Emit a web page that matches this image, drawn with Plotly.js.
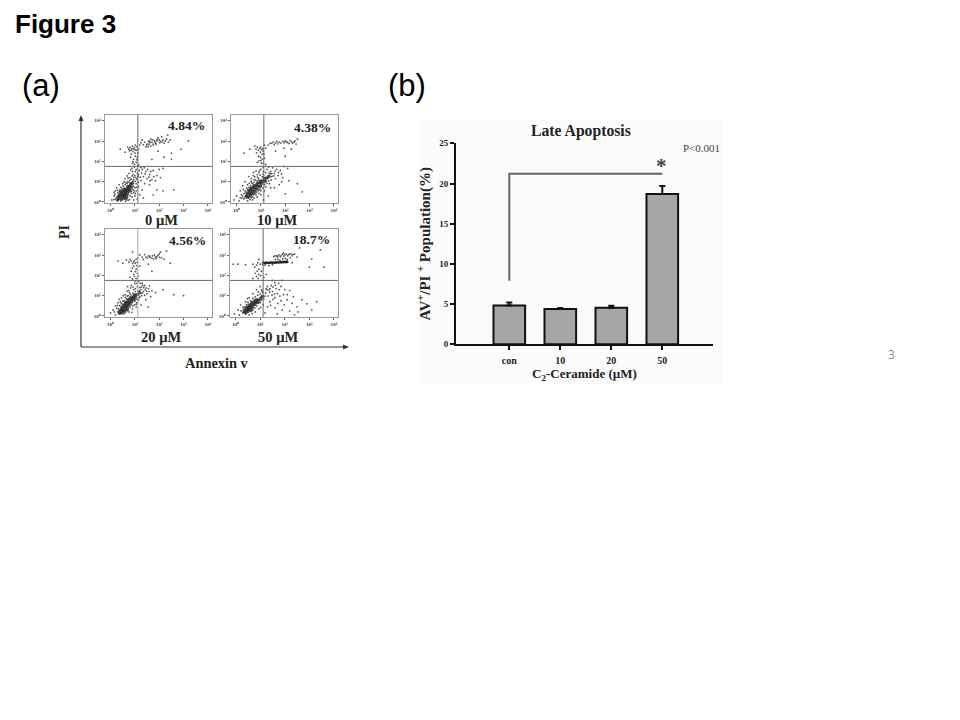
<!DOCTYPE html>
<html><head><meta charset="utf-8">
<script src="https://cdn.plot.ly/plotly-3.0.1.min.js"></script>
<style>html,body{margin:0;padding:0;background:#fff}#c{width:960px;height:720px}</style>
</head><body><div id="c"></div>
<script>
// Bar chart values
const doses=['con','10','20','50'];
const lateApoptosis=[4.84,4.38,4.56,18.7];
const errUp=[0.35,0.15,0.25,1.0];
const bracketX=['con','con','50'];
const bracketY=[7.9,21.2,21.2];
const barTicks=[0,5,10,15,20,25];
// Flow cytometry panels: [log10 Annexin V, log10 PI], read by eye
const panelLabels=['0 µM','10 µM','20 µM','50 µM'];
const panelPct=['4.84%','4.38%','4.56%','18.7%'];
const decadeTicks=[0,1,2,3,4];
const decadeText=['10⁰','10¹','10²','10³','10⁴'];
const quadX=[1.12,1.12,1.12,1.12];
const quadY=[1.75,1.75,1.75,1.75];
const events0=[[1.6,3],[1.7,2.95],[1.8,3.02],[1.9,3],[2,3.05],[2.05,2.98],[2.15,3.05],[2.2,2.9],[1.5,2.85],[1.65,2.75],[1.75,2.85],[1.85,2.9],[1.4,2.95],[1.3,3.05],[1.45,2.7],[1.55,2.72],[2.3,3.1],[2.35,3.3],[2.1,3.2],[2.45,3.05],[1.95,3.15],[1.2,2.8],[1.15,2.6],[1.05,2.55],[0.95,2.6],[0.85,2.55],[0.75,2.6],[0.7,2.7],[0.9,2.75],[1,2.4],[0.85,2.35],[0.6,2.45],[0.4,2.6],[1.1,2.2],[0.95,2.1],[1.05,1.95],[0.9,1.9],[3.2,3],[2.9,2.6],[2.5,2.4],[1.95,2.5],[2.2,2.2],[1.7,2.1],[2.5,2.1],[1.3,1.6],[1.45,1.5],[1.6,1.35],[1.75,1.55],[1.9,1.3],[1.5,1.15],[1.35,1.25],[1.7,1.1],[1.85,1.05],[2,1.6],[2.15,1.65],[1.25,1.05],[1.4,0.9],[1.6,0.85],[1.3,0.6],[1.9,0.6],[1.75,0.35],[2.15,0.55],[2.6,0.6],[1.35,0.2],[1.2,0.35],[1.15,0.75],[1.05,1.6],[0.9,1.5],[0.75,1.4],[1,1.3],[0.8,1.2],[0.6,1.15],[0.95,1.1],[1.1,1.4],[1.05,0.9],[0.5,0.9],[0.35,0.85],[0.2,0.55],[0.05,0.1],[0.15,0.3],[0.3,0.1],[0.95,0.1],[0.25,0.7],[0.55,1],[0.7,1],[0.85,0.95],[1,0.7],[0.95,0.45],[1.1,0.15],[2.05,1.2],
[1.62,2.92],[1.72,3.06],[1.82,2.94],[1.92,3.08],[2.02,2.92],[2.12,2.96],[1.56,2.98],[1.66,3.1],[1.76,2.8],[1.88,2.84],[2.25,3],[2.38,2.95],[1.35,2.82],[1.25,2.92],[1.48,2.78],[1.58,2.84],[0.98,2.68],[1.08,2.72],[0.8,2.68],[0.88,2.62],[1,2.58],[0.78,2.52],[1.02,2.8],[0.92,2.48],[1.12,2.42],[0.82,2.2],[1.02,2.25],[0.92,1.98],[1.08,2.08],[0.98,1.85],[1.15,1.82],[1.25,1.7],[1.38,1.68],[1.52,1.6],[1.65,1.5],[1.42,1.38],[1.58,1.22],[1.28,1.42],[1.18,1.55],[1.22,1.22],[1.12,1.25],[1.78,1.25],[1.62,1.05],[0.88,1.65],[0.98,1.72],[0.82,1.58],[1.02,1.5],[0.68,1.28],[0.88,1.28],[0.78,1.08],[0.62,0.95],[0.42,0.72],[0.3,0.45],[0.28,0.25],[0.2,0.15],[0.42,0.05],[0.62,0.04],[0.78,0.12],[0.88,0.25],[1,0.3],[0.92,0.62],[1.05,0.55],[0.18,0.38],[0.38,0.6],[1.08,1.12],
[0.24,0.22],[0.14,0.12],[0.26,0.05],[0.72,0.08],[0.8,0.3],[0.86,0.42],[0.96,0.55],[1.02,0.42],[0.35,0.52],[0.28,0.58],[0.46,0.65],[0.52,0.78],[0.6,0.86],[0.68,0.92],[0.76,0.98],[0.92,1.02],[1.02,1.02],[1.14,0.98],[0.94,0.78],[1.06,0.72],[0.85,1.12],[0.72,1.18],[0.96,1.22],[1.04,1.2],[1.14,1.34],[0.92,1.35],[0.7,0.18],[0.86,0.52],[0.14,0.48],[0.32,0.32]];
const core0=[[0.3,0.12],[0.38,0.18],[0.46,0.14],[0.54,0.2],[0.62,0.16],[0.34,0.28],[0.42,0.3],[0.5,0.27],[0.58,0.32],[0.66,0.28],[0.38,0.4],[0.46,0.42],[0.54,0.38],[0.62,0.44],[0.7,0.4],[0.44,0.52],[0.52,0.54],[0.6,0.5],[0.68,0.56],[0.76,0.52],[0.56,0.64],[0.64,0.62],[0.72,0.66],[0.8,0.62],[0.7,0.76],[0.78,0.78],[0.86,0.74],[0.82,0.88],[0.9,0.92]];
const events1=[[1.6,2.9],[1.75,2.95],[1.9,2.98],[2,3],[2.1,2.92],[2.2,3.02],[2.3,2.9],[2.4,3],[2.5,3.1],[2.45,2.85],[1.45,2.9],[1.3,2.8],[1.5,2.95],[1.2,2.65],[1.1,2.5],[1,2.7],[0.9,2.55],[0.8,2.6],[0.75,2.75],[1.05,2.35],[0.9,2.25],[1.15,2.15],[1,2.05],[1.1,1.9],[0.85,1.95],[1.95,2.65],[1.6,2.5],[2.25,2.6],[2,2.25],[0.3,2.4],[0.55,2.6],[2.1,1.65],[1.95,1.75],[1.8,1.55],[1.65,1.6],[1.55,1.4],[1.7,1.3],[1.4,1.5],[1.25,1.6],[1.1,1.7],[1.45,1.25],[1.3,1.3],[1.6,1.15],[1.9,1.2],[2.15,1.05],[2.5,0.9],[1.35,0.9],[1.55,0.7],[1.75,0.85],[2,0.4],[2.7,0.5],[1.2,0.75],[1.3,0.3],[0.95,1.55],[0.85,1.35],[0.7,1.45],[0.5,1.25],[0.35,1],[0.25,0.8],[0.15,0.55],[0,0.3],[-0.1,0.1],[0.1,0.05],[0.3,0.15],[0.2,0.35],[0.45,0.05],[0.65,0.1],[0.85,0.25],[0.75,0.4],[1,0.55],[1.1,0.95],[1.05,1.25],[0.6,1.15],[0.75,1.25],[0.9,1.15],[0.45,0.85],[0.35,0.55],[1,0.35],[1.1,0.1],[1.85,1],
[1.65,2.98],[1.82,2.9],[1.96,2.92],[2.06,2.96],[2.16,2.88],[2.26,2.96],[2.36,2.94],[1.7,2.86],[1.55,2.82],[1.38,2.88],[1.15,2.8],[1.02,2.58],[0.95,2.65],[0.85,2.7],[0.98,2.45],[1.08,2.62],[0.82,2.42],[1.12,2.35],[0.98,2.2],[1.06,2.12],[0.92,2.02],[1.02,1.92],[1.2,1.85],[1.32,1.72],[1.48,1.68],[1.58,1.52],[1.72,1.45],[1.85,1.38],[1.38,1.38],[1.52,1.28],[1.2,1.45],[1.28,1.18],[1.42,1.08],[1.18,1.2],[1.1,1.5],[1,1.62],[0.92,1.45],[0.8,1.52],[1.22,1.02],[1.4,0.7],[0.62,0.95],[0.52,0.92],[0.42,0.68],[0.32,0.42],[0.22,0.2],[0.38,0.3],[0.5,0.2],[0.6,0.22],[0.72,0.18],[0.92,0.42],[0.88,0.55],[1.02,0.78],[0.28,0.62],[0.15,0.2],[1.15,0.55],[0.98,0.98],[0.78,1.08],[0.68,1.3],
[0.34,0.22],[0.42,0.18],[0.55,0.12],[0.66,0.25],[0.8,0.35],[0.92,0.62],[1.08,0.68],[0.38,0.5],[0.46,0.6],[0.5,0.72],[0.58,0.8],[0.66,0.9],[0.72,0.98],[0.84,1.04],[0.92,1.06],[1.1,1.22],[1.15,0.86],[1.25,0.92],[1.32,1.05],[0.82,0.48],[0.96,0.62],[1.34,1.42],[1.44,1.4],[1.08,1.36],[0.96,1.32],[0.86,1.22],[0.72,1.1],[0.6,1.02],[0.25,0.3],[0.56,0.66]];
const core1=[[0.4,0.3],[0.48,0.26],[0.56,0.32],[0.44,0.42],[0.52,0.44],[0.6,0.42],[0.68,0.4],[0.5,0.56],[0.58,0.58],[0.66,0.54],[0.74,0.52],[0.6,0.68],[0.68,0.7],[0.76,0.66],[0.84,0.64],[0.72,0.8],[0.8,0.82],[0.88,0.78],[0.96,0.76],[0.86,0.92],[0.94,0.94],[1.02,0.9],[1,1.04],[1.08,1.04],[1.16,1.02],[1.14,1.14],[1.24,1.18],[1.34,1.26]];
const events2=[[1.6,2.95],[1.7,2.85],[1.8,3],[1.9,2.92],[2,3.05],[2.1,2.85],[1.5,2.85],[1.4,3.02],[1.3,2.9],[2.2,2.8],[2.3,3.2],[2.05,3.15],[1.2,3],[1.05,2.8],[0.95,2.65],[1.1,2.65],[0.85,2.7],[0.75,2.65],[0.65,2.75],[0.5,2.6],[0.3,2.7],[0.95,2.45],[1.05,2.3],[0.85,2.2],[0.95,2.05],[1.1,2.1],[0.8,1.9],[1.05,1.85],[1.55,2.55],[1.2,2.45],[1.7,2.2],[2.45,2.6],[0.9,3.15],[1.15,1.7],[1.3,1.6],[1.4,1.5],[1.55,1.35],[1.7,1.25],[1.5,1.1],[1.35,1.2],[1.2,1.4],[1.85,1.15],[1.65,0.95],[1.45,0.8],[2.15,1.3],[2.6,1.05],[3,1],[1.25,0.55],[1.55,0.45],[1,1.6],[0.85,1.5],[0.7,1.45],[0.95,1.3],[0.75,1.25],[0.6,1.05],[0.45,0.9],[0.3,0.65],[0.2,0.5],[0.1,0.3],[0,0.15],[0.2,0.05],[0.35,0.1],[0.15,0.2],[0.55,0.1],[0.75,0.2],[0.9,0.35],[1.05,0.45],[1.15,0.8],[1,0.75],[1.15,1.05],[0.45,0.4],[0.85,0.55],[0.4,0.7],[0.65,0.85],
[1.62,2.88],[1.72,2.96],[1.84,2.9],[1.95,2.98],[1.78,2.8],[1.88,2.82],[2.02,2.88],[1.55,2.95],[1.45,2.9],[1.35,2.78],[1.12,2.85],[0.98,2.72],[1.02,2.6],[0.9,2.58],[0.8,2.78],[1.08,2.48],[0.9,2.35],[1.02,2.18],[0.98,1.95],[1.12,1.95],[0.9,1.82],[1,1.72],[1.08,1.62],[1.22,1.6],[1.32,1.5],[1.46,1.38],[1.6,1.48],[1.25,1.3],[1.42,1.3],[1.3,1.12],[1.18,1.25],[1.58,1.2],[1.1,1.45],[0.92,1.42],[0.82,1.38],[0.68,1.22],[0.52,1],[0.35,0.82],[0.25,0.38],[0.3,0.22],[0.4,0.15],[0.62,0.18],[0.98,0.55],[1.08,0.65],[0.88,0.18],[1.2,0.95],[0.55,0.75],[0.28,0.52],[1.4,1.02],[0.78,1.15],
[0.5,0.22],[0.62,0.3],[0.72,0.32],[0.8,0.45],[0.92,0.5],[0.32,0.35],[0.38,0.52],[0.44,0.62],[0.5,0.72],[0.6,0.92],[0.72,1],[0.82,1.06],[0.92,1.12],[1.02,1.2],[1.12,1.22],[1.02,1.35],[0.98,0.72],[1.08,0.82],[1.18,0.9],[1.28,1],[0.68,0.98],[0.78,0.92],[0.96,1.05],[1.05,0.58],[0.62,0.62],[0.42,0.28],[0.7,0.26],[1.26,1.42],[1.36,1.4],[1.48,1.22]];
const core2=[[0.36,0.16],[0.44,0.14],[0.52,0.2],[0.4,0.28],[0.48,0.3],[0.56,0.28],[0.64,0.3],[0.46,0.42],[0.54,0.42],[0.62,0.44],[0.7,0.42],[0.52,0.54],[0.6,0.56],[0.68,0.54],[0.76,0.56],[0.62,0.68],[0.7,0.68],[0.78,0.66],[0.86,0.68],[0.72,0.8],[0.8,0.82],[0.88,0.8],[0.96,0.82],[0.86,0.94],[0.94,0.94],[1.02,0.92],[1,1.04],[1.1,1.06],[1.2,1.14]];
const events3=[[1.2,2.5],[1.35,2.48],[1.5,2.52],[1.1,2.52],[1,2.55],[1.55,2.92],[1.7,2.9],[1.85,2.96],[2,3],[2.15,3.02],[2.3,2.96],[2.4,3.05],[2.5,2.9],[2.1,2.78],[1.8,2.74],[2.3,2.62],[0.85,2.5],[0.7,2.55],[0.4,2.52],[0.1,2.55],[-0.1,2.55],[0.95,2.3],[0.8,2.1],[0.85,1.95],[0.95,2.05],[1.05,2.2],[1.15,1.9],[0.7,1.85],[3.45,3.25],[3.1,2.8],[3,2.4],[3.6,2.4],[2.6,3.35],[1.95,3.1],[1.25,2.05],[1.9,1.75],[1.75,1.6],[1.6,1.65],[1.45,1.5],[1.3,1.45],[1.65,1.35],[1.85,1.45],[2,1.3],[1.5,1.2],[1.7,1.1],[1.95,1.05],[2.2,1.25],[2.35,0.95],[2.1,0.8],[1.85,0.75],[1.6,0.9],[1.4,0.7],[1.3,0.45],[1.6,0.4],[1.9,0.3],[2.2,0.25],[2.5,0.45],[2.7,0.8],[2.9,0.6],[3.1,0.3],[3.3,0.7],[1.2,0.15],[1.7,0.1],[2.4,0.05],[1.1,1.15],[1,1.45],[0.85,1.3],[0.7,1.1],[1.15,0.85],[1,0.65],[0.55,0.9],[0.4,0.7],[0.2,0.55],[0.1,0.3],[-0.05,0.1],[0.15,0.05],[0.3,0.15],[0.55,0.05],[0.8,0.2],[0.95,0.35],[0.7,0.3],
[1.4,1.35],[1.52,1.42],[1.62,1.52],[1.38,1.18],[1.48,1.02],[1.58,1.08],[1.78,1.3],[1.28,1.28],[1.22,1.12],[1.32,0.98],[1.52,0.82],[1.72,0.62],[1.98,0.55],[2.1,1.05],[1.8,0.98],[1.42,0.52],[2.3,0.62],[2.55,0.2],[1.05,1.3],[0.92,1.18],[1.05,0.98],[1.12,0.55],[1.02,0.42],[0.48,0.85],[0.3,0.42],[0.22,0.25],[0.4,0.1],[0.68,0.12],[1.62,2.78],[1.72,2.78],[1.92,2.82],[2.02,2.84],[2.22,2.86],[0.9,2.62],[0.95,2.78],[0.78,2.4],[0.88,2.2],[1.02,1.98],[0.92,1.85],[1.5,1.75],
[1.66,2.96],[1.76,3],[1.82,2.92],[1.9,3.04],[1.96,2.95],[2.06,3.04],[2.12,2.96],[2.2,3.04],[2.26,3.06],[2.34,3.02],[1.6,2.96],[1.72,2.94],[0.32,0.32],[0.36,0.45],[0.44,0.55],[0.5,0.68],[0.6,0.76],[0.7,0.86],[0.8,0.94],[0.9,1.02],[1,1.08],[1.08,1.22],[1.24,1.34],[1.36,1.3],[0.86,0.5],[0.92,0.62],[1.06,0.8],[0.62,0.22],[0.78,0.4],[1.2,0.98]];
const core3=[[0.34,0.2],[0.42,0.16],[0.5,0.22],[0.38,0.3],[0.46,0.3],[0.54,0.32],[0.62,0.3],[0.44,0.42],[0.52,0.42],[0.6,0.44],[0.68,0.42],[0.54,0.54],[0.62,0.56],[0.7,0.54],[0.78,0.56],[0.66,0.66],[0.74,0.68],[0.82,0.66],[0.9,0.68],[0.8,0.78],[0.88,0.8],[0.96,0.78],[1.02,0.88],[1.1,0.96]];
const band3=[[1.12,2.62],[1.2,2.6],[1.25,2.63],[1.32,2.61],[1.38,2.62],[1.44,2.63],[1.5,2.62],[1.56,2.63],[1.62,2.62],[1.68,2.64],[1.75,2.63],[1.82,2.65],[1.88,2.64],[1.94,2.66],[2,2.65],[2.05,2.66],[2.1,2.66]];

// Panel geometry on the 960x720 page (px)
const W=960,H=720;
const frames=[[105,212,115,203],[231,338,115,203],[105,212,229,317],[230,338,229,317]];
const labelPos=[[161,220],[277,220],[161,337],[278,337]];
const pctPos=[[186,125],[312,127],[187,241],[311,240]];
const sets=[[events0,core0,[]],[events1,core1,[]],[events2,core2,[]],[events3,core3,band3]];
const px=(v)=>v/W, py=(v)=>1-v/H;
const layout={width:W,height:H,margin:{l:0,r:0,t:0,b:0},paper_bgcolor:'#fff',plot_bgcolor:'rgba(0,0,0,0)',showlegend:false,
  font:{family:'"Liberation Serif",serif',color:'#222'},annotations:[],shapes:[]};
const data=[];
const serif='"Liberation Serif",serif', sans='"Liberation Sans",Arial,sans-serif';
function note(text,x,y,size,opt={}){layout.annotations.push(Object.assign({text,xref:'paper',yref:'paper',x:px(x),y:py(y),xanchor:'center',yanchor:'middle',showarrow:false,
  font:{family:serif,size,color:'#222',weight:700}},opt));}
frames.forEach((f,i)=>{
  const n=i+1, xa='x'+n, ya='y'+n;
  layout['xaxis'+n]={domain:[px(f[0]),px(f[1])],range:[-0.23,4.17],anchor:ya,tickvals:decadeTicks,ticktext:decadeText,ticks:'outside',ticklen:2,tickwidth:1,tickcolor:'#666',
    tickfont:{size:5,family:serif,color:'#444',weight:700},showgrid:false,zeroline:false,showline:true,mirror:true,linecolor:'#999',linewidth:1.3};
  layout['yaxis'+n]={domain:[py(f[3]),py(f[2])],range:[-0.05,4.28],anchor:xa,tickvals:decadeTicks,ticktext:decadeText,ticks:'outside',ticklen:2,tickwidth:1,tickcolor:'#666',
    tickfont:{size:5,family:serif,color:'#444',weight:700},showgrid:false,zeroline:false,showline:true,mirror:true,linecolor:'#999',linewidth:1.3};
  layout.shapes.push({type:'line',xref:xa,yref:ya,x0:quadX[i],x1:quadX[i],y0:-0.05,y1:4.28,line:{color:i===2?'#a5a5a5':'#6a6a6a',width:1}});
  layout.shapes.push({type:'line',xref:xa,yref:ya,x0:-0.23,x1:4.17,y0:quadY[i],y1:quadY[i],line:{color:'#6a6a6a',width:1}});
  const [ev,core,band]=sets[i];
  data.push({type:'scatter',mode:'markers',xaxis:xa,yaxis:ya,x:ev.map(p=>p[0]),y:ev.map(p=>p[1]),marker:{size:1.8,color:'#555'},hoverinfo:'skip'});
  data.push({type:'scatter',mode:'markers',xaxis:xa,yaxis:ya,x:core.map(p=>p[0]),y:core.map(p=>p[1]),marker:{size:3.4,color:'#1a1a1a',opacity:0.75},hoverinfo:'skip'});
  if(band.length)data.push({type:'scatter',mode:'markers',xaxis:xa,yaxis:ya,x:band.map(p=>p[0]),y:band.map(p=>p[1]),marker:{size:2.6,color:'#222'},hoverinfo:'skip'});
  note(panelLabels[i],labelPos[i][0],labelPos[i][1],14.5);
  note(panelPct[i],pctPos[i][0],pctPos[i][1],13.5);
});
// Bar chart
layout.xaxis5={domain:[px(456),px(713)],range:[-1.045,3.994],type:'category',categoryorder:'array',categoryarray:doses,anchor:'y5',ticks:'outside',ticklen:4,tickwidth:2,tickcolor:'#111',ticklabelstandoff:2,
  tickfont:{size:10,family:serif,color:'#222',weight:700},showgrid:false,zeroline:false,showline:true,linecolor:'#111',linewidth:2,
  title:{text:'C<sub>2</sub>-Ceramide (µM)',font:{size:13,family:serif,color:'#222',weight:700},standoff:3}};
layout.yaxis5={domain:[py(344.3),py(143.3)],range:[0,25],anchor:'x5',tickvals:barTicks,ticks:'outside',ticklen:4,tickwidth:2,tickcolor:'#111',
  tickfont:{size:9,family:serif,color:'#222',weight:700},showgrid:false,zeroline:false,showline:true,linecolor:'#111',linewidth:2,
  title:{text:'AV<sup>+</sup>/PI <sup>+</sup> Population(%)',font:{size:15,family:serif,color:'#222',weight:700},standoff:5}};
data.push({type:'bar',xaxis:'x5',yaxis:'y5',x:doses,y:lateApoptosis,width:0.62,marker:{color:'#a6a6a6',line:{color:'#111',width:2}},
  error_y:{type:'data',symmetric:false,array:errUp,arrayminus:[0,0,0,0],color:'#111',thickness:2,width:3},hoverinfo:'skip'});
data.push({type:'scatter',mode:'lines',xaxis:'x5',yaxis:'y5',x:bracketX,y:bracketY,line:{color:'#666',width:2},hoverinfo:'skip'});
// Pale image background behind the bar chart
layout.shapes.push({type:'rect',xref:'paper',yref:'paper',x0:px(420),x1:px(722),y0:py(384),y1:py(120),fillcolor:'#fbfbfb',line:{width:0},layer:'below'});
// Axis arrows of the flow panels
layout.shapes.push({type:'line',xref:'paper',yref:'paper',x0:px(81),x1:px(346),y0:py(347),y1:py(347),line:{color:'#333',width:1.2}});
layout.shapes.push({type:'line',xref:'paper',yref:'paper',x0:px(81),x1:px(81),y0:py(347),y1:py(118),line:{color:'#333',width:1.2}});
layout.shapes.push({type:'path',xref:'paper',yref:'paper',path:`M ${px(349)} ${py(347)} L ${px(343)} ${py(344.5)} L ${px(343)} ${py(349.5)} Z`,fillcolor:'#333',line:{width:0}});
layout.shapes.push({type:'path',xref:'paper',yref:'paper',path:`M ${px(81)} ${py(115)} L ${px(78.5)} ${py(121)} L ${px(83.5)} ${py(121)} Z`,fillcolor:'#333',line:{width:0}});
// Page text
note('Figure 3',65,24,26,{font:{family:sans,size:26,color:'#000',weight:700}});
note('(a)',41,85,31,{font:{family:sans,size:31,color:'#000'}});
note('(b)',407,85,31,{font:{family:sans,size:31,color:'#000'}});
note('3',891,354,12,{font:{family:'"Open Sans",sans-serif',size:12,color:'#8a8a8a'}});
note('Annexin v',217,363,14.4);
note('PI',65,232,14,{textangle:-90});
note('Late Apoptosis',581,131,15.7);
note('P&lt;0.001',701,148,11,{font:{family:serif,size:11,color:'#444'}});
note('*',661,166,21,{font:{family:serif,size:21,color:'#444',weight:700}});
Plotly.newPlot('c',data,layout,{displayModeBar:false,staticPlot:true}).then(()=>{
  // The reference is a soft, resampled image: soften the dot clouds only.
  document.querySelectorAll('.scatterlayer .trace').forEach(t=>{ if(t.querySelector('.points path')) t.style.filter='blur(0.45px)'; });
});
</script></body></html>
